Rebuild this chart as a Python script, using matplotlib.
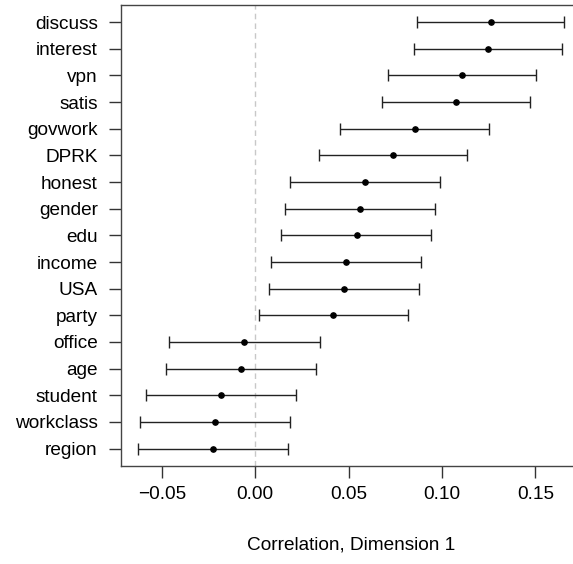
import numpy as np
import matplotlib.pyplot as plt

plt.rcParams['font.family'] = ['Liberation Sans', 'DejaVu Sans']

# data, top to bottom
labels = ['discuss', 'interest', 'vpn', 'satis', 'govwork', 'DPRK', 'honest',
          'gender', 'edu', 'income', 'USA', 'party', 'office', 'age',
          'student', 'workclass', 'region']
est = [0.1262, 0.1248, 0.1109, 0.1074, 0.0855, 0.0740, 0.0590,
       0.0563, 0.0543, 0.0488, 0.0477, 0.0418, -0.0059, -0.0076,
       -0.0184, -0.0213, -0.0227]
lower = [0.0865, 0.0852, 0.0709, 0.0678, 0.0457, 0.0342, 0.0189,
         0.0160, 0.0139, 0.0086, 0.0074, 0.0018, -0.0459, -0.0477,
         -0.0584, -0.0615, -0.0629]
upper = [0.1654, 0.1641, 0.1504, 0.1471, 0.1252, 0.1137, 0.0990,
         0.0963, 0.0941, 0.0889, 0.0877, 0.0818, 0.0346, 0.0324,
         0.0221, 0.0189, 0.0178]
xticks = [-0.05, 0.00, 0.05, 0.10, 0.15]

W, H = 573, 564
fig = plt.figure(figsize=(W / 100, H / 100), dpi=100)
# axes box runs past the right edge of the figure, as in the reference
ax = fig.add_axes([120.7 / W, (H - 465.7) / H, (581 - 120.7) / W, (465.7 - 5) / H])

n = len(labels)
y = np.arange(n, 0, -1)
est = np.array(est)
err = np.vstack([est - np.array(lower), np.array(upper) - est])

ax.axvline(0, color='#c8c8c8', lw=1, ls=(0, (4, 3)), zorder=1)
ax.errorbar(est, y, xerr=err, fmt='o', color='black', ecolor='#222222',
            elinewidth=1, capsize=4.6, capthick=1, markersize=3.8, zorder=3)

ax.set_xlim(-0.0720, 0.1745)
ax.set_ylim(0.36, n + 0.64)
ax.set_yticks(y)
ax.set_yticklabels(labels, fontsize=13.7)
ax.set_xticks(xticks)
ax.set_xticklabels(['\u22120.05', '0.00', '0.05', '0.10', '0.15'], fontsize=13.7)
ax.tick_params(axis='both', length=8.5, width=1, color='#333333')
ax.tick_params(axis='y', pad=8)
ax.tick_params(axis='x', pad=6)
for s in ax.spines.values():
    s.set_color('#444444')
    s.set_linewidth(1)

ax.set_xlabel('Correlation, Dimension 1', fontsize=13.7, labelpad=24)

plt.savefig('out.png', dpi=100)
